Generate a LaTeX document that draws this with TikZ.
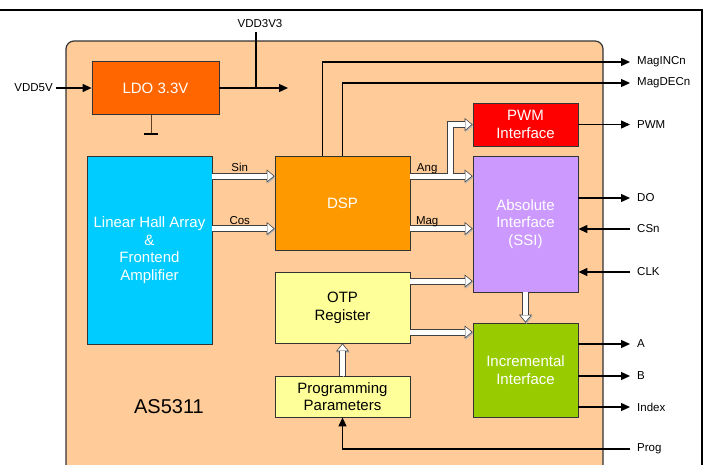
\documentclass[tikz,border=0pt]{standalone}
\usepackage{fontspec}
\setmainfont{Liberation Sans}
\usetikzlibrary{arrows.meta}
\definecolor{cChip}{HTML}{FFCC99}
\definecolor{cLdo}{HTML}{FF6600}
\definecolor{cHall}{HTML}{00CCFF}
\definecolor{cDsp}{HTML}{FF9900}
\definecolor{cOtp}{HTML}{FFFF99}
\definecolor{cPwm}{HTML}{FF0000}
\definecolor{cAbs}{HTML}{CC99FF}
\definecolor{cInc}{HTML}{99CC00}
\tikzset{
	blk/.style 2 args={draw=black!80, line width=0.8pt, minimum width=#1, minimum height=#2, inner sep=0pt, align=center, font=\fontsize{15}{17.7}\selectfont},
	sig/.style={line width=1.3pt, -{Triangle[length=9pt,width=8pt]}},
	fatb/.style={line width=7pt, draw=black!75, -{Triangle[length=8pt,width=13pt,line width=0pt]}, preaction={draw=black!30, transform canvas={xshift=0.8pt,yshift=-1.2pt}}},
	fatw/.style={draw=white, line width=5pt, -{Triangle[length=6pt,width=10pt,line width=0pt]}, shorten >=1.2pt},
	fat/.style={fatb, postaction={fatw}},
	lbl/.style={inner sep=0pt, font=\fontsize{11.5}{13}\selectfont},
	lblup/.style={lbl, anchor=base, yshift=4.5pt},
	outlbl/.style={lbl, anchor=west, xshift=7pt}
}

\begin{document}
\begin{tikzpicture}[x=1pt, y=-1pt]
			%%%%% START %%%%%
			\useasboundingbox (0,0) rectangle (703,464);
			\clip (0,0) rectangle (703,464);
			
			\draw[line width=1.2pt] (0,10) -- (702,10) -- (702,470);
			\draw[line width=1.2pt, draw=black!80, fill=cChip, rounded corners=8pt] (66,41) rectangle (603,500);
			
			%%%%% BLOCKS %%%%%
			\node[blk={127pt}{53pt}, fill=cLdo, text=white] (ldo) at (155.5,88) {LDO 3.3V};
			\node[blk={125pt}{188pt}, fill=cHall, text=white] (hall) at (149.5,250) {Linear Hall Array\\\&\\Frontend\\Amplifier};
			\node[blk={135pt}{94pt}, fill=cDsp, text=white] (dsp) at (342.5,203) {DSP};
			\node[blk={135pt}{71pt}, fill=cOtp] (otp) at (342.5,307.5) {OTP\\Register};
			\node[blk={135pt}{41pt}, fill=cOtp] (prog) at (342.5,396.5) {Programming\\Parameters};
			\node[blk={105pt}{43pt}, fill=cPwm, text=white] (pwm) at (525.5,124.5) {PWM\\Interface};
			\node[blk={105pt}{136pt}, fill=cAbs, text=white] (abs) at (525.5,224) {Absolute\\Interface\\(SSI)};
			\node[blk={105pt}{94pt}, fill=cInc, text=white] (inc) at (525.5,370) {Incremental\\Interface};
			
			\node[font=\fontsize{20}{24}\selectfont] (chip) at (169,407) {AS5311};
			
			%%%%% SUPPLY %%%%%
			\node[lbl, anchor=east] (vddin) at (53,88) {VDD5V};
			\draw[sig, shorten <=3pt] (vddin.east) -- (ldo.west);
			
			\coordinate (vddout) at (288,88);
			\coordinate (vddtap) at (256,88);
			\node[lbl] (vdd3) at (260,24) {VDD3V3};
			\draw[sig] (ldo.east) -- (vddout);
			\draw[line width=1.3pt, shorten >=4pt] (vddtap) -- (vddtap |- vdd3.south);
			
			\coordinate (gnd) at (151,134);
			\draw[line width=1pt, draw=brown!50!black] (ldo.south -| gnd) -- (gnd);
			\draw[line width=2.5pt] ([xshift=-7pt]gnd) -- ([xshift=7pt]gnd);
			
			%%%%% DATA PATHS %%%%%
			\draw[fat] (hall.east |- 0,176) -- node[lblup, pos=0.44] (sinlbl) {Sin} (dsp.west |- 0,176);
			\draw[fat] (hall.east |- 0,228.5) -- node[lblup, pos=0.44] (coslbl) {Cos} (dsp.west |- 0,228.5);
			\draw[fat] (dsp.east |- 0,176) -- node[lblup, pos=0.27] (anglbl) {Ang} (abs.west |- 0,176);
			\draw[fat] (dsp.east |- 0,228.5) -- node[lblup, pos=0.27] (maglbl) {Mag} (abs.west |- 0,228.5);
			
			\coordinate (fork) at (450,176);
			\draw[fatb, shorten <=3.5pt, postaction={fatw, shorten <=2.5pt}] (fork) |- (pwm.west);
			
			\draw[fat] (otp.east |- 0,281) -- (abs.west |- 0,281);
			\draw[fat] (otp.east |- 0,332) -- (inc.west |- 0,332);
			\draw[fat] (abs.south) -- (inc.north);
			\draw[fat] (prog.north) -- (otp.south);
			
			%%%%% PINS %%%%%
			\coordinate (magincout) at (630,62);
			\coordinate (magdecout) at (630,83);
			\draw[sig] ([xshift=-20pt]dsp.north) |- (magincout);
			\draw[sig] (dsp.north) |- (magdecout);
			\node[outlbl] (maginclbl) at (magincout) {MagINCn};
			\node[outlbl] (magdeclbl) at (magdecout) {MagDECn};
			
			\coordinate (pwmout) at (630,124.5);
			\draw[sig] (pwm.east) -- (pwmout);
			\node[outlbl] (pwmlbl) at (pwmout) {PWM};
			
			\coordinate (doout) at (630,198);
			\coordinate (csin) at (630,229);
			\coordinate (clkin) at (630,272);
			\draw[sig] (abs.east |- doout) -- (doout);
			\draw[sig] (csin) -- (abs.east |- csin);
			\draw[sig] (clkin) -- (abs.east |- clkin);
			\node[outlbl] (dolbl) at (doout) {DO};
			\node[outlbl] (cslbl) at (csin) {CSn};
			\node[outlbl] (clklbl) at (clkin) {CLK};
			
			\coordinate (aout) at (630,344);
			\coordinate (bout) at (630,376);
			\coordinate (idxout) at (630,407);
			\draw[sig] (inc.east |- aout) -- (aout);
			\draw[sig] (inc.east |- bout) -- (bout);
			\draw[sig] (inc.east |- idxout) -- (idxout);
			\node[outlbl] (albl) at (aout) {A};
			\node[outlbl] (blbl) at (bout) {B};
			\node[outlbl] (idxlbl) at (idxout) {Index};
			
			\coordinate (progin) at (630,449);
			\draw[sig] (progin) -| (prog.south);
			\node[outlbl] (proglbl) at (progin) {Prog};
			
			%%%%% END %%%%%
\end{tikzpicture}
\end{document}
